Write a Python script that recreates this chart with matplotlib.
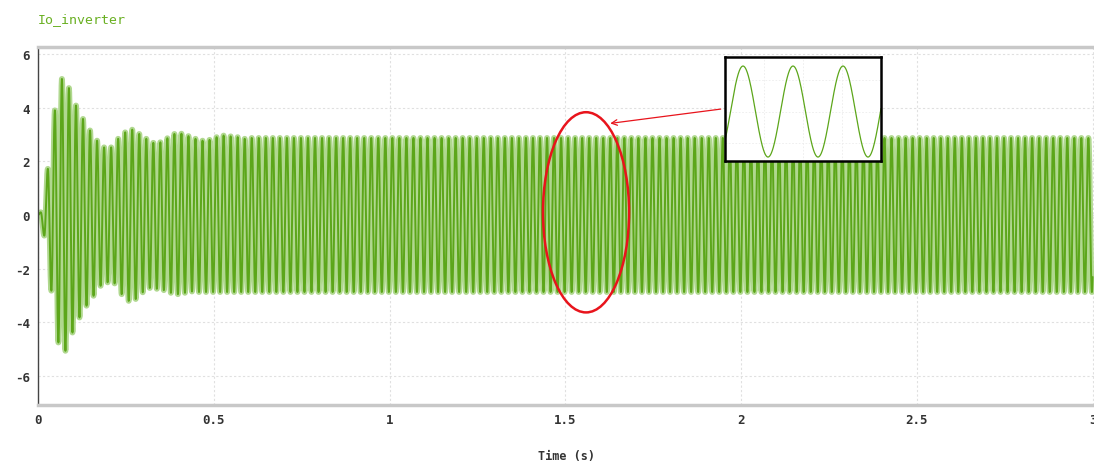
import numpy as np
import matplotlib.pyplot as plt
from matplotlib.patches import Ellipse

plt.rcParams['axes.unicode_minus'] = False

# extrema of the start-up transient, 50 Hz waveform
pos_peaks = [0.1, 1.72, 3.9, 5.07, 4.73, 4.08, 3.58, 3.15, 2.77, 2.52, 2.52, 2.84,
             3.08, 3.18, 3.02, 2.84, 2.69, 2.71, 2.86, 3.02, 3.03, 2.94, 2.84, 2.77,
             2.8, 2.9, 2.96, 2.93, 2.9, 2.84]
neg_peaks = [-0.77, -2.82, -4.75, -5.06, -4.38, -3.82, -3.38, -3.01, -2.64, -2.51,
             -2.55, -2.95, -3.2, -3.13, -2.88, -2.72, -2.75, -2.8, -2.9, -2.95,
             -2.9, -2.85]
steady_amp = 2.87
freq = 50.0
t_first_peak = 0.008
t_end = 3.0

# build the waveform: half-cosine segments between successive extrema
half = 0.5 / freq
n_half = int((t_end - t_first_peak) / half) + 2
t_ext = [0.0]
v_ext = [0.0]
for k in range(n_half):
    i = k // 2
    if k % 2 == 0:
        v = pos_peaks[i] if i < len(pos_peaks) else steady_amp
    else:
        v = neg_peaks[i] if i < len(neg_peaks) else -steady_amp
    t_ext.append(t_first_peak + k * half)
    v_ext.append(v)
t_ext = np.array(t_ext)
v_ext = np.array(v_ext)

t = np.arange(0, t_end + 1e-9, 1e-4)
idx = np.clip(np.searchsorted(t_ext, t, side='right') - 1, 0, len(t_ext) - 2)
frac = (t - t_ext[idx]) / (t_ext[idx + 1] - t_ext[idx])
w = 0.5 - 0.5 * np.cos(np.pi * frac)
y = v_ext[idx] + (v_ext[idx + 1] - v_ext[idx]) * w
y[0] = 0.0

green = '#5ca61a'
light_green = '#b0d88f'
mono = 'DejaVu Sans Mono'

fig = plt.figure(figsize=(10.94, 4.64), dpi=100)
ax = fig.add_axes([38 / 1094, 1 - 406 / 464, 1056 / 1094, 358 / 464])
ax.plot(t, y, color=light_green, lw=4.2)
ax.plot(t, y, color=green, lw=1.4)

ax.set_xlim(0, 3.004)
ax.set_ylim(-7.08, 6.26)
ax.set_xticks([0, 0.5, 1, 1.5, 2, 2.5, 3])
ax.set_xticklabels(['0', '0.5', '1', '1.5', '2', '2.5', '3'])
ax.set_yticks([-6, -4, -2, 0, 2, 4, 6])
ax.grid(True, color='#e0e0e0', ls=(0, (2, 2)), lw=0.8)
ax.tick_params(length=0, labelsize=9, colors='#333333', pad=6)
for lab in ax.get_xticklabels() + ax.get_yticklabels():
    lab.set_family(mono)
    lab.set_fontweight('bold')
ax.spines['right'].set_visible(False)
ax.spines['left'].set_color('#444444')
ax.spines['left'].set_linewidth(1)
ax.spines['top'].set_color('#c8c8c8')
ax.spines['top'].set_linewidth(2.5)
ax.spines['bottom'].set_color('#c8c8c8')
ax.spines['bottom'].set_linewidth(2.5)
ax.set_xlabel('Time (s)', family=mono, fontsize=8.5, color='#333333',
              fontweight='bold')
ax.xaxis.set_label_coords(0.5, -0.123)

fig.text(38 / 1094, 1 - 20 / 464, 'Io_inverter', family=mono, fontsize=9.5,
         color='#6ab023', va='center', ha='left')

# highlight ellipse and arrow
ell = Ellipse((1.559, 0.1), 0.245, 7.46, fill=False, ec='#e8141c', lw=1.8, zorder=5)
ax.add_patch(ell)
ax.annotate('', xy=(1.62, 3.4), xytext=(1.95, 3.96),
            arrowprops=dict(arrowstyle='->', color='#e8141c', lw=0.9), zorder=5)

# zoomed inset
ins = fig.add_axes([725 / 1094, 1 - 162 / 464, 156 / 1094, 104 / 464])
ins.plot(t, y, color=green, lw=0.9)
t0 = 1.5008
ins.set_xlim(t0, t0 + 0.0624)
ins.set_ylim(-3.12, 3.44)
ins.set_xticks(np.linspace(t0, t0 + 0.0624, 5)[1:-1])
ins.set_yticks([-2, 0, 2])
ins.grid(True, color='#ececec', ls=(0, (2, 2)), lw=0.6)
ins.tick_params(length=0, labelbottom=False, labelleft=False)
for s in ins.spines.values():
    s.set_color('black')
    s.set_linewidth(1.8)

fig.savefig('out.png', dpi=100)
